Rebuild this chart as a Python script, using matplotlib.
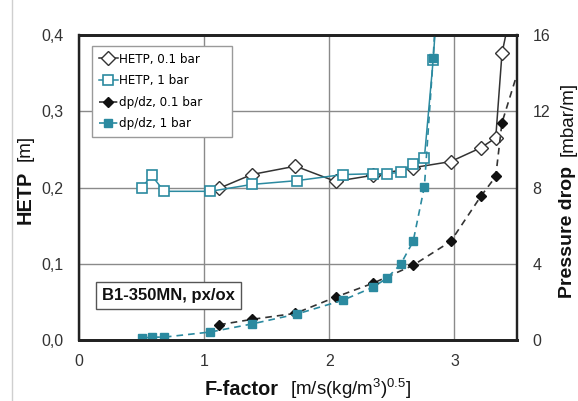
import matplotlib
matplotlib.use("Agg")
import matplotlib.pyplot as plt
from matplotlib.ticker import FuncFormatter, FixedLocator
from matplotlib.lines import Line2D

plt.rcParams["font.family"] = ["Liberation Sans", "DejaVu Sans"]
plt.rcParams["mathtext.fontset"] = "custom"
plt.rcParams["mathtext.rm"] = "Liberation Sans"
plt.rcParams["mathtext.it"] = "Liberation Sans:italic"
plt.rcParams["mathtext.bf"] = "Liberation Sans:bold"

# F-factor [m/s(kg/m3)^0.5], HETP [m], pressure drop [mbar/m]
f_1bar = [0.50, 0.58, 0.68, 1.05, 1.38, 1.74, 2.11, 2.35, 2.46, 2.57, 2.67, 2.76, 2.83, 2.92]
hetp_1bar = [0.199, 0.216, 0.195, 0.195, 0.204, 0.209, 0.217, 0.218, 0.218, 0.220, 0.231, 0.239, 0.367, 0.58]
dp_1bar = [0.10, 0.15, 0.15, 0.42, 0.84, 1.36, 2.09, 2.77, 3.24, 3.97, 5.17, 8.05, 14.8, 25.0]

f_01bar = [1.12, 1.38, 1.73, 2.05, 2.35, 2.67, 2.97, 3.21, 3.33, 3.38, 3.55]
hetp_01bar = [0.199, 0.217, 0.228, 0.208, 0.216, 0.226, 0.234, 0.252, 0.265, 0.376, 0.51]
dp_01bar = [0.80, 1.08, 1.40, 2.25, 2.98, 3.92, 5.17, 7.53, 8.58, 11.4, 15.0]

teal = "#2b8aa0"
black = "#111111"

fig = plt.figure(figsize=(5.78, 4.01), dpi=100)
ax = fig.add_axes([79 / 578, 1 - 340 / 401, 438 / 578, 305 / 401])
ax2 = ax.twinx()

ax.set_xlim(0, 3.5)
ax.set_ylim(0, 0.4)
ax2.set_ylim(0, 16)

ax.xaxis.set_major_locator(FixedLocator([0, 1, 2, 3]))
ax.yaxis.set_major_locator(FixedLocator([0, 0.1, 0.2, 0.3, 0.4]))
ax2.yaxis.set_major_locator(FixedLocator([0, 4, 8, 12, 16]))
ax.yaxis.set_major_formatter(FuncFormatter(lambda v, p: f"{v:.1f}".replace(".", ",")))

ax.grid(True, color="#8a8a8a", linewidth=1.0)
ax.set_axisbelow(True)

ax.tick_params(axis="both", length=0, labelsize=11.5, colors="#333333")
ax.tick_params(axis="x", pad=10)
ax.tick_params(axis="y", pad=11)
ax2.tick_params(axis="y", length=0, labelsize=11.5, colors="#333333", pad=11)

for a in (ax, ax2):
    for side, sp in a.spines.items():
        sp.set_color("#222222")
        sp.set_linewidth(2.0 if side in ("top", "bottom") else 1.6)

h1, = ax.plot(f_01bar, hetp_01bar, color="#333333", lw=1.1, marker="D", ms=7,
              mfc="white", mec="#333333", mew=1.0, label="HETP, 0.1 bar")
h2, = ax.plot(f_1bar, hetp_1bar, color=teal, lw=1.1, marker="s", ms=7,
              mfc="white", mec=teal, mew=1.2, label="HETP, 1 bar")
h3, = ax2.plot(f_01bar, dp_01bar, color="#333333", lw=1.2, ls=(0, (4, 3)), marker="D",
               ms=5, mfc=black, mec=black, label="dp/dz, 0.1 bar")
h4, = ax2.plot(f_1bar, dp_1bar, color=teal, lw=1.2, ls=(0, (4, 3)), marker="s",
               ms=5.5, mfc=teal, mec=teal, label="dp/dz, 1 bar")

leg_top = (340 - 46) / 305
leg_h = 88 / 305
leg = ax2.legend(handles=[h1, h2, h3, h4], loc="upper left",
                 bbox_to_anchor=(0.03, leg_top - leg_h, 0.32, leg_h), mode="expand",
                 borderaxespad=0, fancybox=False, framealpha=1, edgecolor="#9a9a9a",
                 prop={"family": "DejaVu Sans", "size": 8.6}, handlelength=1.6,
                 handletextpad=0.1, labelspacing=0.72, borderpad=0.55)
leg.get_frame().set_linewidth(1.0)
leg.set_zorder(10)

ax2.text(0.204, 0.146, "B1-350MN, px/ox", transform=ax2.transAxes, ha="center", va="center",
         fontsize=12, fontweight="bold", color="#111111", zorder=10,
         bbox=dict(boxstyle="square,pad=0.35", fc="white", ec="#555555", lw=1.0))

# axis titles: bold quantity followed by its unit
def fy(py):
    return 1 - py / 401

fig.text(25 / 578, fy(224), "HETP", rotation=90, rotation_mode="anchor", ha="left",
         va="center", fontsize=14.3, fontweight="bold", color="#111111")
fig.text(25 / 578, fy(161), "[m]", rotation=90, rotation_mode="anchor", ha="left",
         va="center", fontsize=13.5, color="#111111")

fig.text(568 / 578, fy(298), "Pressure drop", rotation=90, rotation_mode="anchor", ha="left",
         va="center", fontsize=14, fontweight="bold", color="#111111")
fig.text(568 / 578, fy(82), "[mbar/m]", rotation=90, rotation_mode="anchor", ha="right",
         va="center", fontsize=13.5, color="#111111")

fig.text(205 / 578, fy(395), "F-factor", fontsize=14.3, fontweight="bold",
         ha="left", va="baseline", color="#111111")
fig.text(290 / 578, fy(395), r"[m/s(kg/m$^{3}$)$^{0.5}$]", fontsize=13.5,
         ha="left", va="baseline", color="#111111")

fig.add_artist(Line2D([12 / 578, 12 / 578], [0, 1], color="#cfcfcf", lw=1.0))

fig.savefig("out.png", dpi=100)
